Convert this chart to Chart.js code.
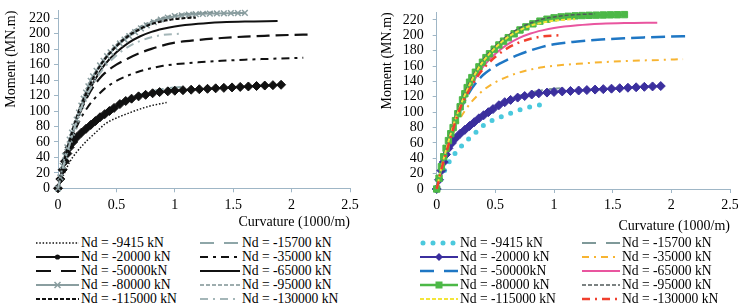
<!DOCTYPE html>
<html>
<head>
<meta charset="utf-8">
<script src="https://cdn.jsdelivr.net/npm/chart.js@4.4.1/dist/chart.umd.min.js"></script>
<style>
  body { margin: 0; background: #fff; }
  #wrap { position: relative; width: 738px; height: 308px; overflow: hidden;
          font-family: "Liberation Serif", "Times New Roman", serif; }
  #cLeft  { position: absolute; left: 0;     top: 0; }
  #cRight { position: absolute; left: 370px; top: 0; }
  .lg-txt { position: absolute; font-size: 13.6px; line-height: 16px; color: #000; white-space: pre; }
  .lg-svg { position: absolute; overflow: visible; }
</style>
</head>
<body>
<div id="wrap">
  <canvas id="cLeft" width="370" height="232"></canvas>
  <canvas id="cRight" width="368" height="236"></canvas>
</div>
<script>
/* ─────────────────── datos ──────────────── */
const seriesNames = [
  "Nd = -9415 kN", "Nd = -15700 kN", "Nd = -20000 kN", "Nd = -35000 kN", "Nd = -50000kN",
  "Nd = -65000 kN", "Nd = -80000 kN", "Nd = -95000 kN", "Nd = -115000 kN", "Nd = -130000 kN"
];
const xTicks = [0, 0.5, 1, 1.5, 2, 2.5];
const yTicks = [0, 20, 40, 60, 80, 100, 120, 140, 160, 180, 200, 220];

const curv9415 = [0, 0.05, 0.1, 0.15, 0.2, 0.25, 0.3, 0.35, 0.4, 0.5, 0.6, 0.7, 0.8, 0.93];
const mom9415  = [0, 18, 34, 45, 54, 62, 69, 76, 83, 91, 97, 102.5, 107, 111];

const curv15700 = [0, 0.05, 0.1, 0.15, 0.2, 0.3, 0.4, 0.5, 0.6, 0.7, 0.8, 0.9, 1.0, 1.1];
const mom15700  = [0, 27, 49, 62, 71, 86, 99, 109, 116, 121.5, 125.5, 128.5, 130.5, 131.5];

const curv20000 = [0, 0.02, 0.04, 0.06, 0.08, 0.1, 0.13, 0.16, 0.2, 0.24, 0.28, 0.32, 0.36, 0.4, 0.44,
  0.48, 0.53, 0.58, 0.63, 0.69, 0.75, 0.81, 0.87, 0.94, 1.0, 1.07, 1.14, 1.21, 1.28, 1.35, 1.42,
  1.49, 1.56, 1.63, 1.7, 1.77, 1.84, 1.91];
const mom20000  = [0, 12, 24, 35, 45, 53, 60, 66, 72, 77, 82, 87, 92, 96, 100,
  104, 109, 113, 116, 119, 121, 123, 124.5, 125.5, 126.3, 127, 127.6, 128.2, 128.8, 129.4, 130,
  130.6, 131.2, 131.8, 132.4, 133, 133.5, 134];

const curv35000 = [0, 0.05, 0.1, 0.15, 0.2, 0.25, 0.3, 0.35, 0.4, 0.5, 0.6, 0.7, 0.8, 0.9, 1.0, 1.2, 1.4, 1.6, 1.8, 2.0, 2.1];
const mom35000  = [0, 30, 55, 76, 92, 104, 114, 122, 129, 139, 146, 151.5, 155.5, 158.5, 160.5, 163, 165, 166.5, 167.5, 168.5, 169];

const curv50000 = [0, 0.05, 0.1, 0.15, 0.2, 0.25, 0.3, 0.35, 0.4, 0.5, 0.6, 0.7, 0.8, 0.9, 1.0, 1.2, 1.4, 1.6, 1.8, 2.0, 2.15];
const mom50000  = [0, 32, 58, 82, 102, 118, 131, 141, 149, 160, 168, 175, 180.5, 185, 188.5, 192, 194.5, 196.3, 197.5, 198.5, 199];

const curv65000 = [0, 0.05, 0.1, 0.15, 0.2, 0.25, 0.3, 0.35, 0.4, 0.5, 0.6, 0.7, 0.8, 0.9, 1.0, 1.2, 1.4, 1.6, 1.88];
const mom65000  = [0, 33, 60, 84, 104, 121, 136, 149, 160, 176, 188, 196.5, 202.5, 206.5, 209.5, 213, 215, 216, 216.5];

const curv80000 = [0, 0.02, 0.04, 0.06, 0.08, 0.1, 0.12, 0.14, 0.16, 0.18, 0.2, 0.22, 0.24, 0.26, 0.28, 0.3,
  0.33, 0.36, 0.39, 0.42, 0.45, 0.49, 0.53, 0.57, 0.61, 0.66, 0.71, 0.76, 0.82, 0.88, 0.94, 1.0,
  1.06, 1.12, 1.18, 1.24, 1.3, 1.36, 1.42, 1.48, 1.54, 1.6];
const mom80000  = [0, 14, 29, 42, 53, 63, 72, 80, 89, 98, 107, 116, 124, 132, 139, 145,
  152, 159, 165, 171, 176, 182, 187.5, 192.5, 197, 202, 207, 211, 215, 218.5, 221, 222.8,
  224, 224.8, 225.4, 225.8, 226.1, 226.3, 226.5, 226.7, 226.8, 227];

const curv95000 = [0, 0.05, 0.1, 0.15, 0.2, 0.25, 0.3, 0.35, 0.4, 0.5, 0.6, 0.7, 0.8, 0.9, 1.0, 1.1, 1.2, 1.35];
const mom95000  = [0, 36, 65, 90, 111, 129, 145, 158, 169, 186, 199, 209, 216, 221, 224, 226, 227, 228];

const curv115000 = [0, 0.05, 0.1, 0.15, 0.2, 0.25, 0.3, 0.35, 0.4, 0.5, 0.6, 0.7, 0.8, 0.9, 1.0, 1.1, 1.18];
const mom115000  = [0, 34, 62, 87, 108, 126, 142, 156, 167, 184, 197, 206, 212.5, 216.5, 219, 220.5, 221];

const curv130000 = [0, 0.05, 0.1, 0.15, 0.2, 0.25, 0.3, 0.35, 0.4, 0.5, 0.6, 0.7, 0.8, 0.9, 1.04];
const mom130000  = [0, 31, 57, 83, 105, 121, 135, 147, 157, 172, 183, 190.5, 195.5, 198.5, 200];

const allCurv = [curv9415, curv15700, curv20000, curv35000, curv50000, curv65000, curv80000, curv95000, curv115000, curv130000];
const allMom  = [mom9415, mom15700, mom20000, mom35000, mom50000, mom65000, mom80000, mom95000, mom115000, mom130000];

/* ─────────────────── estilos ──────────────── */
// gráfico izquierdo en grises, derecho en color
const stylesLeft = [
  { color: "#111", width: 1.5, dash: [1.5, 1.8] },
  { color: "#8ea6a8", width: 2, dash: [12, 6], legDash: [14, 10] },
  { color: "#111", width: 2, point: "rectRot", r: 4.5, legPoint: "circle" },
  { color: "#111", width: 2, dash: [8, 5, 3, 5] },
  { color: "#111", width: 2.2, dash: [13, 6], legDash: [15, 10] },
  { color: "#111", width: 2 },
  { color: "#8a9ea0", width: 2, point: "crossRot", r: 4, pbw: 1.5 },
  { color: "#7f9294", width: 1.5, dash: [4, 2] },
  { color: "#111", width: 2.2, dash: [4, 2] },
  { color: "#a4b6b8", width: 2, dash: [8, 5, 2, 5] }
];
const stylesRight = [
  { color: "#4bc9dd", width: 5, dash: [0, 10], cap: "round" },
  { color: "#7f9999", width: 2, dash: [12, 6], legDash: [14, 10] },
  { color: "#3b2f9e", width: 2, point: "rectRot", r: 4.5 },
  { color: "#f7b431", width: 2, dash: [7, 5, 2, 5] },
  { color: "#1f77c4", width: 2.5, dash: [14, 6], legDash: [14, 10] },
  { color: "#e9559f", width: 2 },
  { color: "#4cb847", width: 2.5, point: "rect", r: 4.5 },
  { color: "#505a5a", width: 1.5, dash: [4, 2] },
  { color: "#f3e53a", width: 2, dash: [4, 2] },
  { color: "#f0402e", width: 2.5, dash: [8, 5, 2, 5] }
];

const axisCol = "#9fb6c6";
const txtFont = { family: "Liberation Serif", size: 14 };

/* ─────────────────── gráficos ──────────────── */
function makeChart(id, styles, g) {
  const datasets = allCurv.map((curv, i) => {
    const st = styles[i];
    return {
      label: seriesNames[i],
      data: curv.map((c, k) => ({ x: c, y: allMom[i][k] })),
      borderColor: st.color,
      borderWidth: st.width,
      borderDash: st.dash || [],
      borderCapStyle: st.cap || "butt",
      pointRadius: st.point ? st.r : 0,
      pointStyle: st.point || "circle",
      pointBackgroundColor: st.color,
      pointBorderColor: st.color,
      pointBorderWidth: st.pbw || 1,
      cubicInterpolationMode: "monotone",
      fill: false,
      clip: 10,
      order: 10 - i
    };
  });

  return new Chart(document.getElementById(id), {
    type: "line",
    data: { datasets },
    options: {
      responsive: false,
      devicePixelRatio: 1,
      animation: false,
      layout: { padding: { top: g.top, left: 0, right: g.padRight, bottom: 0 } },
      plugins: { legend: { display: false }, tooltip: { enabled: false } },
      scales: {
        x: {
          type: "linear", min: 0, max: 2.5,
          afterBuildTicks: s => { s.ticks = xTicks.map(v => ({ value: v })); },
          afterFit: s => { s.height = g.xHeight; s.paddingLeft = 0; s.paddingRight = 0; },
          ticks: { font: txtFont, color: "#000", padding: 4.3, maxRotation: 0, autoSkip: false, callback: v => String(v) },
          grid: { drawOnChartArea: false, tickLength: 4, color: axisCol },
          border: { color: axisCol, width: 1 },
          title: { display: true, text: "Curvature (1000/m)", align: "end", font: txtFont, color: "#000",
                   padding: { top: 0, bottom: g.xTitlePad } }
        },
        y: {
          type: "linear", min: 0, max: 230,
          afterBuildTicks: s => { s.ticks = yTicks.map(v => ({ value: v })); },
          afterFit: s => { s.width = g.yWidth; s.paddingTop = 0; s.paddingBottom = 0; },
          ticks: { font: txtFont, color: "#000", padding: g.yTickPad, autoSkip: false },
          grid: { drawOnChartArea: false, tickLength: 4, color: axisCol },
          border: { color: axisCol, width: 1 },
          title: { display: true, text: "Moment (MN.m)", align: "end", font: txtFont, color: "#000",
                   padding: { top: g.yTitlePad, bottom: 0 } }
        }
      }
    }
  });
}

makeChart("cLeft", stylesLeft, { top: 10.6, padRight: 20, yWidth: 58, xHeight: 43.7, yTickPad: 4, yTitlePad: 2.6, xTitlePad: 1.2 });
makeChart("cRight", stylesRight, { top: 12.3, padRight: 8, yWidth: 66.7, xHeight: 47, yTickPad: 9, yTitlePad: 8.6, xTitlePad: 1.6 });

/* ─────────────────── leyendas ──────────────── */
const legendRows = [243.3, 257.2, 271.1, 285, 298.9];

function svgMarker(kind, cx, cy, col) {
  if (kind === "circle")   return `<circle cx="${cx}" cy="${cy}" r="2.6" fill="${col}"/>`;
  if (kind === "rectRot")  return `<polygon points="${cx},${cy-4} ${cx+4},${cy} ${cx},${cy+4} ${cx-4},${cy}" fill="${col}"/>`;
  if (kind === "rect")     return `<rect x="${cx-3.5}" y="${cy-3.5}" width="7" height="7" fill="${col}"/>`;
  if (kind === "crossRot") return `<path d="M${cx-3} ${cy-3}L${cx+3} ${cy+3}M${cx-3} ${cy+3}L${cx+3} ${cy-3}" stroke="${col}" stroke-width="1.5"/>`;
  return "";
}

function buildLegend(styles, cols) {
  const wrap = document.getElementById("wrap");
  styles.forEach((st, i) => {
    const col = cols[i % 2];
    const y = legendRows[Math.floor(i / 2)];
    const w = col.s1 - col.s0;
    const svg = document.createElement("div");
    svg.className = "lg-svg";
    svg.style.left = col.s0 + "px";
    svg.style.top = (y - 6) + "px";
    const d = st.legDash || st.dash;
    const dash = d ? `stroke-dasharray="${d.join(" ")}"` : "";
    const mk = st.legPoint || st.point;
    svg.innerHTML = `<svg width="${w}" height="12" style="overflow:visible;display:block">
      <line x1="${st.cap === "round" ? 3 : 0}" y1="6" x2="${w}" y2="6" stroke="${st.color}" stroke-width="${st.width}"
        ${dash} stroke-linecap="${st.cap || "butt"}"/>
      ${mk ? svgMarker(mk, w / 2, 6, st.color) : ""}</svg>`;
    wrap.appendChild(svg);

    const t = document.createElement("div");
    t.className = "lg-txt";
    t.style.left = col.t + "px";
    t.style.top = (y - 8) + "px";
    t.textContent = seriesNames[i];
    wrap.appendChild(t);
  });
}

buildLegend(stylesLeft,  [{ s0: 36, s1: 79, t: 81 },   { s0: 200, s1: 240, t: 242 }]);
buildLegend(stylesRight, [{ s0: 420, s1: 458, t: 460 }, { s0: 582, s1: 620, t: 622 }]);
</script>
</body>
</html>
